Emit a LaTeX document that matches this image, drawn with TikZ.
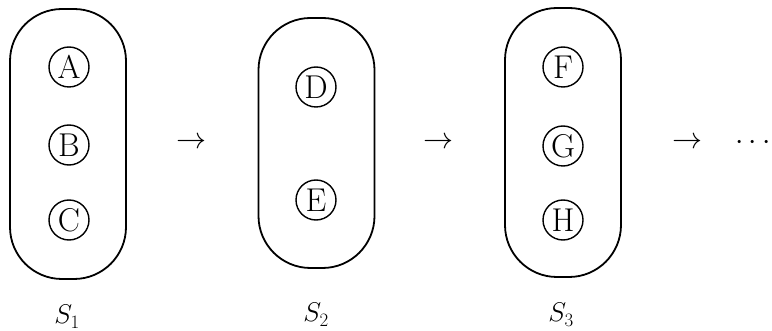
\RequirePackage{fix-cm}
\documentclass[tikz,border=0pt]{standalone}
\begin{document}
\begin{tikzpicture}[x=1pt,y=-1pt,
  setbox/.style={draw,line width=1.8pt,rounded corners=52pt,minimum width=116pt,inner sep=0pt},
  elem/.style={draw,circle,line width=1.4pt,minimum size=40pt,inner sep=0pt,font=\fontsize{33}{39}\selectfont},
  sym/.style={inner sep=0pt,font=\fontsize{30}{36}\selectfont},
  lbl/.style={inner sep=0pt,anchor=base,font=\fontsize{27}{32}\selectfont}]
\useasboundingbox (0,0) rectangle (772,331);
\node[setbox,minimum height=270pt] (s1) at (68,144) {};
\node[setbox,minimum height=250pt] (s2) at (316.5,143) {};
\node[setbox,minimum height=269pt] (s3) at (563,142.5) {};
\node[elem] (a) at (69,67) {A};
\node[elem] (b) at (69,145) {B};
\node[elem] (c) at (69,220) {C};
\node[elem] (d) at (316,87) {D};
\node[elem] (e) at (316,200) {E};
\node[elem] (f) at (563,67) {F};
\node[elem] (g) at (563,146) {G};
\node[elem] (h) at (563,220) {H};
\node[sym] (ar1) at (191,143) {$\rightarrow$};
\node[sym] (ar2) at (438,143) {$\rightarrow$};
\node[sym] (ar3) at (687,143) {$\rightarrow$};
\node[sym] (dots) at (753,143) {$\cdots$};
\node[lbl] (l1) at (67,324) {$S_1$};
\node[lbl] (l2) at (316,322) {$S_2$};
\node[lbl] (l3) at (561,322) {$S_3$};
\end{tikzpicture}
\end{document}
